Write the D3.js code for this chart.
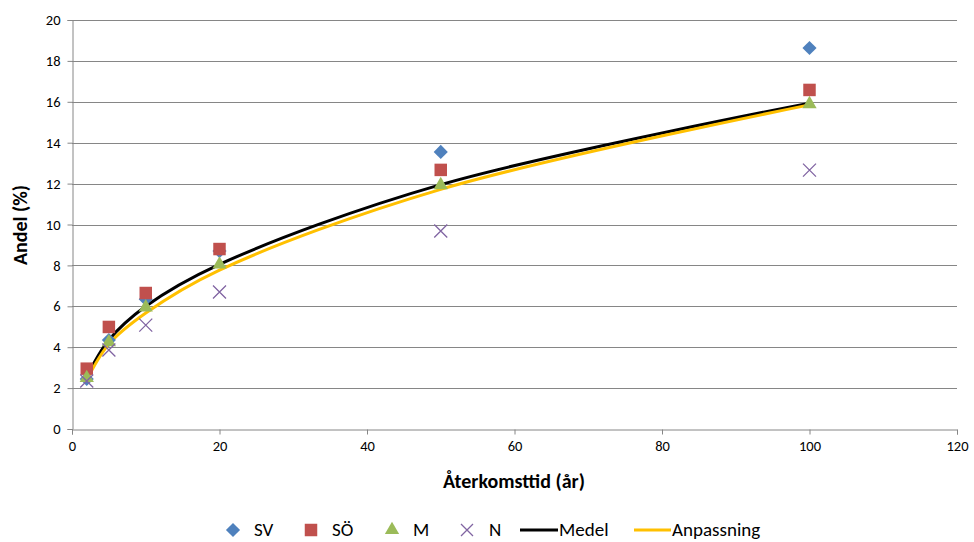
<!DOCTYPE html>
<html>
<head>
<meta charset="utf-8">
<script src="https://cdn.jsdelivr.net/npm/d3@7"></script>
<style>
  html, body { margin: 0; padding: 0; background: #fff; }
  svg { display: block; font-family: Carlito, Lato, "Open Sans", sans-serif; }
</style>
</head>
<body>
<svg id="chart" width="974" height="542"></svg>
<script>
// Return period (years) and share (%) per region
const returnPeriods = [2, 5, 10, 20, 50, 100];
const seriesNames = ["SV", "SÖ", "M", "N", "Medel", "Anpassning"];
const valuesSV = [2.45, 4.35, 6.35, 8.7, 13.55, 18.63];
const valuesSO = [2.95, 4.99, 6.65, 8.8, 12.67, 16.58];
const valuesM = [2.45, 4.2, 5.9, 8.0, 11.88, 15.84];
const valuesN = [2.35, 3.86, 5.08, 6.7, 9.68, 12.66];
const valuesMedel = [2.55, 4.35, 6.0, 8.05, 11.95, 15.93];
const valuesFit = [2.4, 4.15, 5.67, 7.77, 11.72, 15.85];
const xTicks = [0, 20, 40, 60, 80, 100, 120];
const yTicks = [0, 2, 4, 6, 8, 10, 12, 14, 16, 18, 20];

const svg = d3.select("#chart");
const x = d3.scaleLinear().domain([0, 120]).range([72, 957]);
const y = d3.scaleLinear().domain([0, 20]).range([429, 20]);

const gridColor = "#868686";

// horizontal gridlines
svg.append("g").selectAll("line").data(yTicks.filter(d => d > 0)).join("line")
  .attr("x1", x(0)).attr("x2", x(120))
  .attr("y1", d => Math.round(y(d)) + 0.5).attr("y2", d => Math.round(y(d)) + 0.5)
  .attr("stroke", gridColor).attr("stroke-width", 1);

// axes
const yAxis = svg.append("g")
  .attr("transform", `translate(${Math.round(x(0)) + 0.5},0)`)
  .call(d3.axisLeft(y).tickValues(yTicks).tickSize(5).tickFormat(d3.format("d")));
const xAxis = svg.append("g")
  .attr("transform", `translate(0,${Math.round(y(0)) + 0.5})`)
  .call(d3.axisBottom(x).tickValues(xTicks).tickSize(5).tickFormat(d3.format("d")));
[xAxis, yAxis].forEach(g => {
  g.select(".domain").attr("stroke", gridColor);
  g.selectAll(".tick line").attr("stroke", gridColor);
  g.selectAll(".tick text").attr("fill", "#000").style("font-size", "14.5px")
    .style("font-family", "Carlito, Lato, sans-serif");
});
yAxis.selectAll(".tick text").attr("x", -12);
xAxis.selectAll(".tick text").attr("y", 11);

// axis titles
svg.append("text")
  .attr("x", 514).attr("y", 488).attr("text-anchor", "middle")
  .style("font-size", "20px").style("font-weight", "bold").text("Återkomsttid (år)");
svg.append("text")
  .attr("transform", "translate(27,225) rotate(-90)").attr("text-anchor", "middle")
  .style("font-size", "20px").style("font-weight", "bold").text("Andel (%)");

// smoothed lines: mean and fitted curve
const line = d3.line().x((d, i) => x(returnPeriods[i])).y(d => y(d))
  .curve(d3.curveCatmullRom.alpha(0.5));
svg.append("path").datum(valuesMedel).attr("d", line)
  .attr("fill", "none").attr("stroke", "#000").attr("stroke-width", 3);
svg.append("path").datum(valuesFit).attr("d", line)
  .attr("fill", "none").attr("stroke", "#FFC000").attr("stroke-width", 3);

// marker shapes
const diamond = d3.symbol().type(d3.symbolSquare).size(100)();
const square = d3.symbol().type(d3.symbolSquare).size(156)();
const triangle = d3.symbol().type(d3.symbolTriangle).size(88)();
function cross(s) {
  const p = d3.path();
  p.moveTo(-s, -s); p.lineTo(s, s);
  p.moveTo(-s, s); p.lineTo(s, -s);
  return p.toString();
}

const markerSeries = [
  { values: valuesSV, path: diamond, rotate: 45, fill: "#4F81BD" },
  { values: valuesSO, path: square, rotate: 0, fill: "#C0504D" },
  { values: valuesM, path: triangle, rotate: 0, fill: "#9BBB59", dy: -1 },
  { values: valuesN, path: cross(6.5), rotate: 0, stroke: "#8064A2" }
];
markerSeries.forEach(s => {
  svg.append("g").selectAll("path").data(s.values).join("path")
    .attr("transform", (d, i) => `translate(${x(returnPeriods[i])},${y(d) + (s.dy || 0)}) rotate(${s.rotate})`)
    .attr("d", s.path)
    .attr("fill", s.fill || "none")
    .attr("stroke", s.stroke || "none")
    .attr("stroke-width", s.stroke ? 1.3 : 0);
});

// legend
const legendY = 530;
const legend = svg.append("g").style("font-size", "19px");
const legendItems = [
  { key: 0, sx: 233, tx: 254, kind: "marker", m: markerSeries[0] },
  { key: 1, sx: 311, tx: 332, kind: "marker", m: markerSeries[1] },
  { key: 2, sx: 392, tx: 413, kind: "marker", m: markerSeries[2] },
  { key: 3, sx: 467, tx: 489, kind: "marker", m: markerSeries[3] },
  { key: 4, sx: 520, tx: 559, kind: "line", color: "#000" },
  { key: 5, sx: 634, tx: 672, kind: "line", color: "#FFC000" }
];
legendItems.forEach(it => {
  if (it.kind === "marker") {
    const m = it.m;
    legend.append("path")
      .attr("transform", `translate(${it.sx},${legendY}) rotate(${m.rotate})`)
      .attr("d", it.key === 3 ? cross(6) : m.path)
      .attr("fill", m.fill || "none").attr("stroke", m.stroke || "none")
      .attr("stroke-width", m.stroke ? 1.3 : 0);
  } else {
    legend.append("line").attr("x1", it.sx).attr("x2", it.tx - 1)
      .attr("y1", legendY).attr("y2", legendY)
      .attr("stroke", it.color).attr("stroke-width", 3);
  }
  legend.append("text").attr("x", it.tx).attr("y", legendY + 6).text(seriesNames[it.key]);
});
</script>
</body>
</html>
